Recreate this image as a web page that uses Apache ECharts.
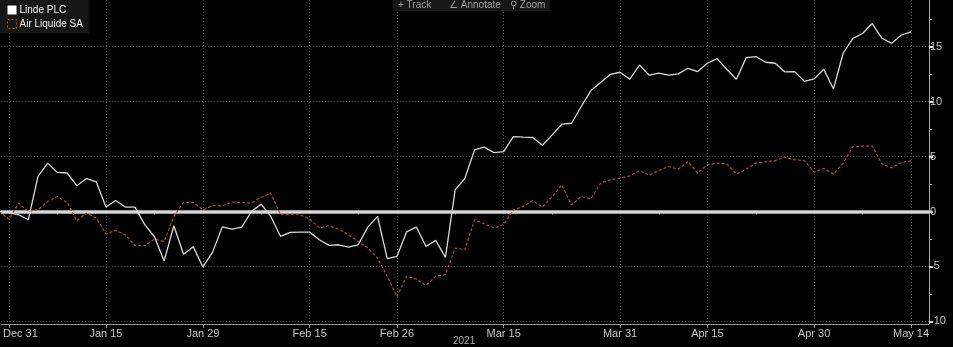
<!DOCTYPE html>
<html>
<head>
<meta charset="utf-8">
<script src="https://cdn.jsdelivr.net/npm/echarts@6/dist/echarts.min.js"></script>
<style>
html,body{margin:0;padding:0;background:#000;}
#c{width:953px;height:347px;}
</style>
</head>
<body>
<div id="c"></div>
<script>
// trading days (Dec 30 = base day)
const dates = [
 'Dec 30','Dec 31',
 'Jan 4','Jan 5','Jan 6','Jan 7','Jan 8',
 'Jan 11','Jan 12','Jan 13','Jan 14','Jan 15',
 'Jan 18','Jan 19','Jan 20','Jan 21','Jan 22',
 'Jan 25','Jan 26','Jan 27','Jan 28','Jan 29',
 'Feb 1','Feb 2','Feb 3','Feb 4','Feb 5',
 'Feb 8','Feb 9','Feb 10','Feb 11','Feb 12',
 'Feb 15','Feb 16','Feb 17','Feb 18','Feb 19',
 'Feb 22','Feb 23','Feb 24','Feb 25','Feb 26',
 'Mar 1','Mar 2','Mar 3','Mar 4','Mar 5',
 'Mar 8','Mar 9','Mar 10','Mar 11','Mar 12',
 'Mar 15','Mar 16','Mar 17','Mar 18','Mar 19',
 'Mar 22','Mar 23','Mar 24','Mar 25','Mar 26',
 'Mar 29','Mar 30','Mar 31','Apr 1',
 'Apr 6','Apr 7','Apr 8','Apr 9',
 'Apr 12','Apr 13','Apr 14','Apr 15','Apr 16',
 'Apr 19','Apr 20','Apr 21','Apr 22','Apr 23',
 'Apr 26','Apr 27','Apr 28','Apr 29','Apr 30',
 'May 3','May 4','May 5','May 6','May 7',
 'May 10','May 11','May 12','May 13','May 14'
];
const linde = [
 0, -0.1,
 -0.3, -0.75, 3.2, 4.4, 3.55,
 3.5, 2.35, 3.0, 2.7, 0.4,
 1.0, 0.4, 0.4, -1.2, -2.3,
 -4.5, -1.3, -3.9, -3.2, -5.05,
 -3.7, -1.4, -1.6, -1.42, 0.0,
 0.67, -0.45, -2.27, -1.9, -1.88,
 -1.88, -2.57, -3.09, -3.03, -3.24,
 -3.03, -1.42, -0.45, -4.3, -4.09,
 -1.85, -1.42, -3.18, -2.63, -4.18,
 1.97, 3.0, 5.6, 5.85, 5.36,
 5.45, 6.82, 6.76, 6.73, 6.03,
 6.97, 7.94, 8.03, 9.55, 11.0,
 11.73, 12.48, 12.67, 12.03,
 13.33, 12.4, 12.6, 12.4,
 12.52, 13.03, 12.73, 13.49, 13.91,
 12.94, 12.03, 14.0, 14.1, 13.58,
 13.49, 12.7, 12.73, 11.85, 12.06,
 12.94, 11.15, 14.4, 15.76, 16.2,
 17.1, 15.76, 15.3, 16.06, 16.34
];
const airLiquide = [
 0, -0.7,
 0.76, 0.0, 0.15, 0.91, 1.36,
 0.82, -0.85, -0.15, -0.6, -2.03,
 -1.72, -2.12, -3.12, -3.12, -2.5,
 -2.73, -0.45, 0.82, 0.82, 0.15,
 0.52, 0.52, 0.85, 0.82, 0.76,
 1.3, 1.67, -0.3, -0.3, -0.3,
 -0.66, -1.5, -1.3, -1.6, -2.12,
 -2.73, -3.33, -4.24, -5.9, -7.73,
 -5.9, -6.15, -6.75, -5.9, -5.75,
 -3.33, -3.48, -0.75, -1.12, -1.5,
 -1.2, 0.15, 0.45, 1.0, 0.4,
 1.36, 2.42, 0.6, 1.36, 1.15,
 2.58, 2.88, 3.03, 3.24,
 3.7, 3.3, 3.73, 4.09,
 3.85, 4.55, 3.5, 4.25, 4.4,
 4.33, 3.4, 3.85, 4.4, 4.52,
 4.64, 4.94, 4.7, 4.64, 3.58,
 3.91, 3.4, 4.4, 5.91, 5.94,
 5.94, 4.33, 3.97, 4.46, 4.6
];
const labelDates = ['Dec 31','Jan 15','Jan 29','Feb 15','Feb 26','Mar 15','Mar 31','Apr 15','Apr 30','May 14'];
const minorDates = ['Jan 8','Jan 22','Feb 8','Feb 22','Mar 8','Mar 22','Apr 8','Apr 22','May 7'];
const yTicks = [-10, -5, 0, 5, 10, 15];
const yMinorTicks = [-7.5, -2.5, 2.5, 7.5, 12.5, 17.5];
const yearLabel = '2021';
const seriesNames = ['Linde PLC', 'Air Liquide SA'];

const labelIdx = labelDates.map(d => dates.indexOf(d));
const minorIdx = minorDates.map(d => dates.indexOf(d));
const FONT = 'Liberation Sans, Arial, sans-serif';
const RED = '#ad4e2b';
const WHITE = '#d8d8d8';

const chart = echarts.init(document.getElementById('c'), null, {renderer: 'canvas'});
const xMin = 0.175, xMax = 95.85;
const yMin = -10.24, yMax = 19.245;

chart.setOption({
  backgroundColor: '#000',
  animation: false,
  grid: {left: 0, right: 24, top: 0, bottom: 23, containLabel: false},
  legend: {
    orient: 'vertical', left: 0, top: 0,
    backgroundColor: 'rgba(24,24,24,0.9)',
    padding: [5, 6, 4, 7],
    itemGap: 4, itemWidth: 9, itemHeight: 9,
    textStyle: {color: '#f0f0f0', fontSize: 10, fontFamily: FONT, padding: [0, 0, 0, -2]},
    data: [
      {name: seriesNames[0], icon: 'rect', itemStyle: {color: '#ffffff', borderWidth: 0}},
      {name: seriesNames[1], icon: 'rect', itemStyle: {color: 'rgba(0,0,0,0)', borderColor: RED, borderWidth: 1, borderType: [2, 2]}}
    ]
  },
  xAxis: [{
    type: 'value', min: xMin, max: xMax,
    axisLine: {show: true, onZero: false, lineStyle: {color: '#9a9a9a', width: 1}},
    axisTick: {show: true, customValues: labelIdx, length: 4, lineStyle: {color: '#9a9a9a'}},
    axisLabel: {
      show: true, customValues: labelIdx, color: '#c8c8c8', fontSize: 11, fontFamily: FONT, margin: 4,
      formatter: v => {
        const s = dates[Math.round(v)];
        return Math.round(v) === labelIdx[0] ? '{f|' + s + '}' : s;
      },
      rich: {f: {padding: [0, 0, 0, 23], color: '#c8c8c8', fontSize: 11, fontFamily: FONT}}
    },
    splitLine: {show: true, lineStyle: {color: '#555555', type: [1, 2], width: 1}}
  }, {
    type: 'value', min: xMin, max: xMax, position: 'bottom',
    axisLine: {show: false},
    axisTick: {show: true, customValues: minorIdx, length: 3, lineStyle: {color: '#9a9a9a'}},
    axisLabel: {show: false},
    splitLine: {show: false}
  }],
  yAxis: [{
    type: 'value', position: 'right', min: yMin, max: yMax,
    axisLine: {show: true, lineStyle: {color: '#a8a8a8', width: 1}},
    axisTick: {show: true, customValues: yTicks, length: 4, lineStyle: {color: '#e0e0e0', width: 2}},
    axisLabel: {show: true, customValues: yTicks, color: '#c8c8c8', fontSize: 11, fontFamily: FONT, margin: 1},
    splitLine: {show: true, lineStyle: {color: '#4a4a4a', type: [1, 2], width: 1}}
  }, {
    type: 'value', position: 'right', min: yMin, max: yMax,
    axisLine: {show: false},
    axisTick: {show: true, customValues: yMinorTicks, length: 3, lineStyle: {color: '#a8a8a8', width: 1}},
    axisLabel: {show: false},
    splitLine: {show: false}
  }],
  graphic: [
    {type: 'rect', left: 393, top: 0, shape: {width: 157, height: 11}, style: {fill: '#171717'}, z: 10},
    {type: 'text', left: 398, top: 0, style: {text: '+ Track', fill: '#9c9c9c', font: '10px ' + FONT}, z: 11},
    {type: 'text', left: 449, top: 0, style: {text: '∠ Annotate', fill: '#9c9c9c', font: '10px ' + FONT}, z: 11},
    {type: 'text', left: 510, top: 0, style: {text: '⚲ Zoom', fill: '#9c9c9c', font: '10px ' + FONT}, z: 11},
    {type: 'text', left: 453, top: 336, style: {text: yearLabel, fill: '#b0b0b0', font: '10px ' + FONT}, z: 11}
  ],
  series: [{
    name: seriesNames[0], type: 'line',
    data: linde.map((v, j) => [j, v]),
    showSymbol: false, symbol: 'none',
    lineStyle: {color: WHITE, width: 1.3},
    itemStyle: {color: WHITE},
    z: 4,
    markLine: {
      silent: true, symbol: 'none', label: {show: false},
      lineStyle: {color: '#d4d4d4', width: 3.5, type: 'solid'},
      data: [{yAxis: 0}],
      z: 2
    }
  }, {
    name: seriesNames[1], type: 'line',
    data: airLiquide.map((v, j) => [j, v]),
    showSymbol: false, symbol: 'none',
    lineStyle: {color: RED, width: 1.2, type: [3, 2]},
    itemStyle: {color: RED},
    z: 3
  }]
});
</script>
</body>
</html>
